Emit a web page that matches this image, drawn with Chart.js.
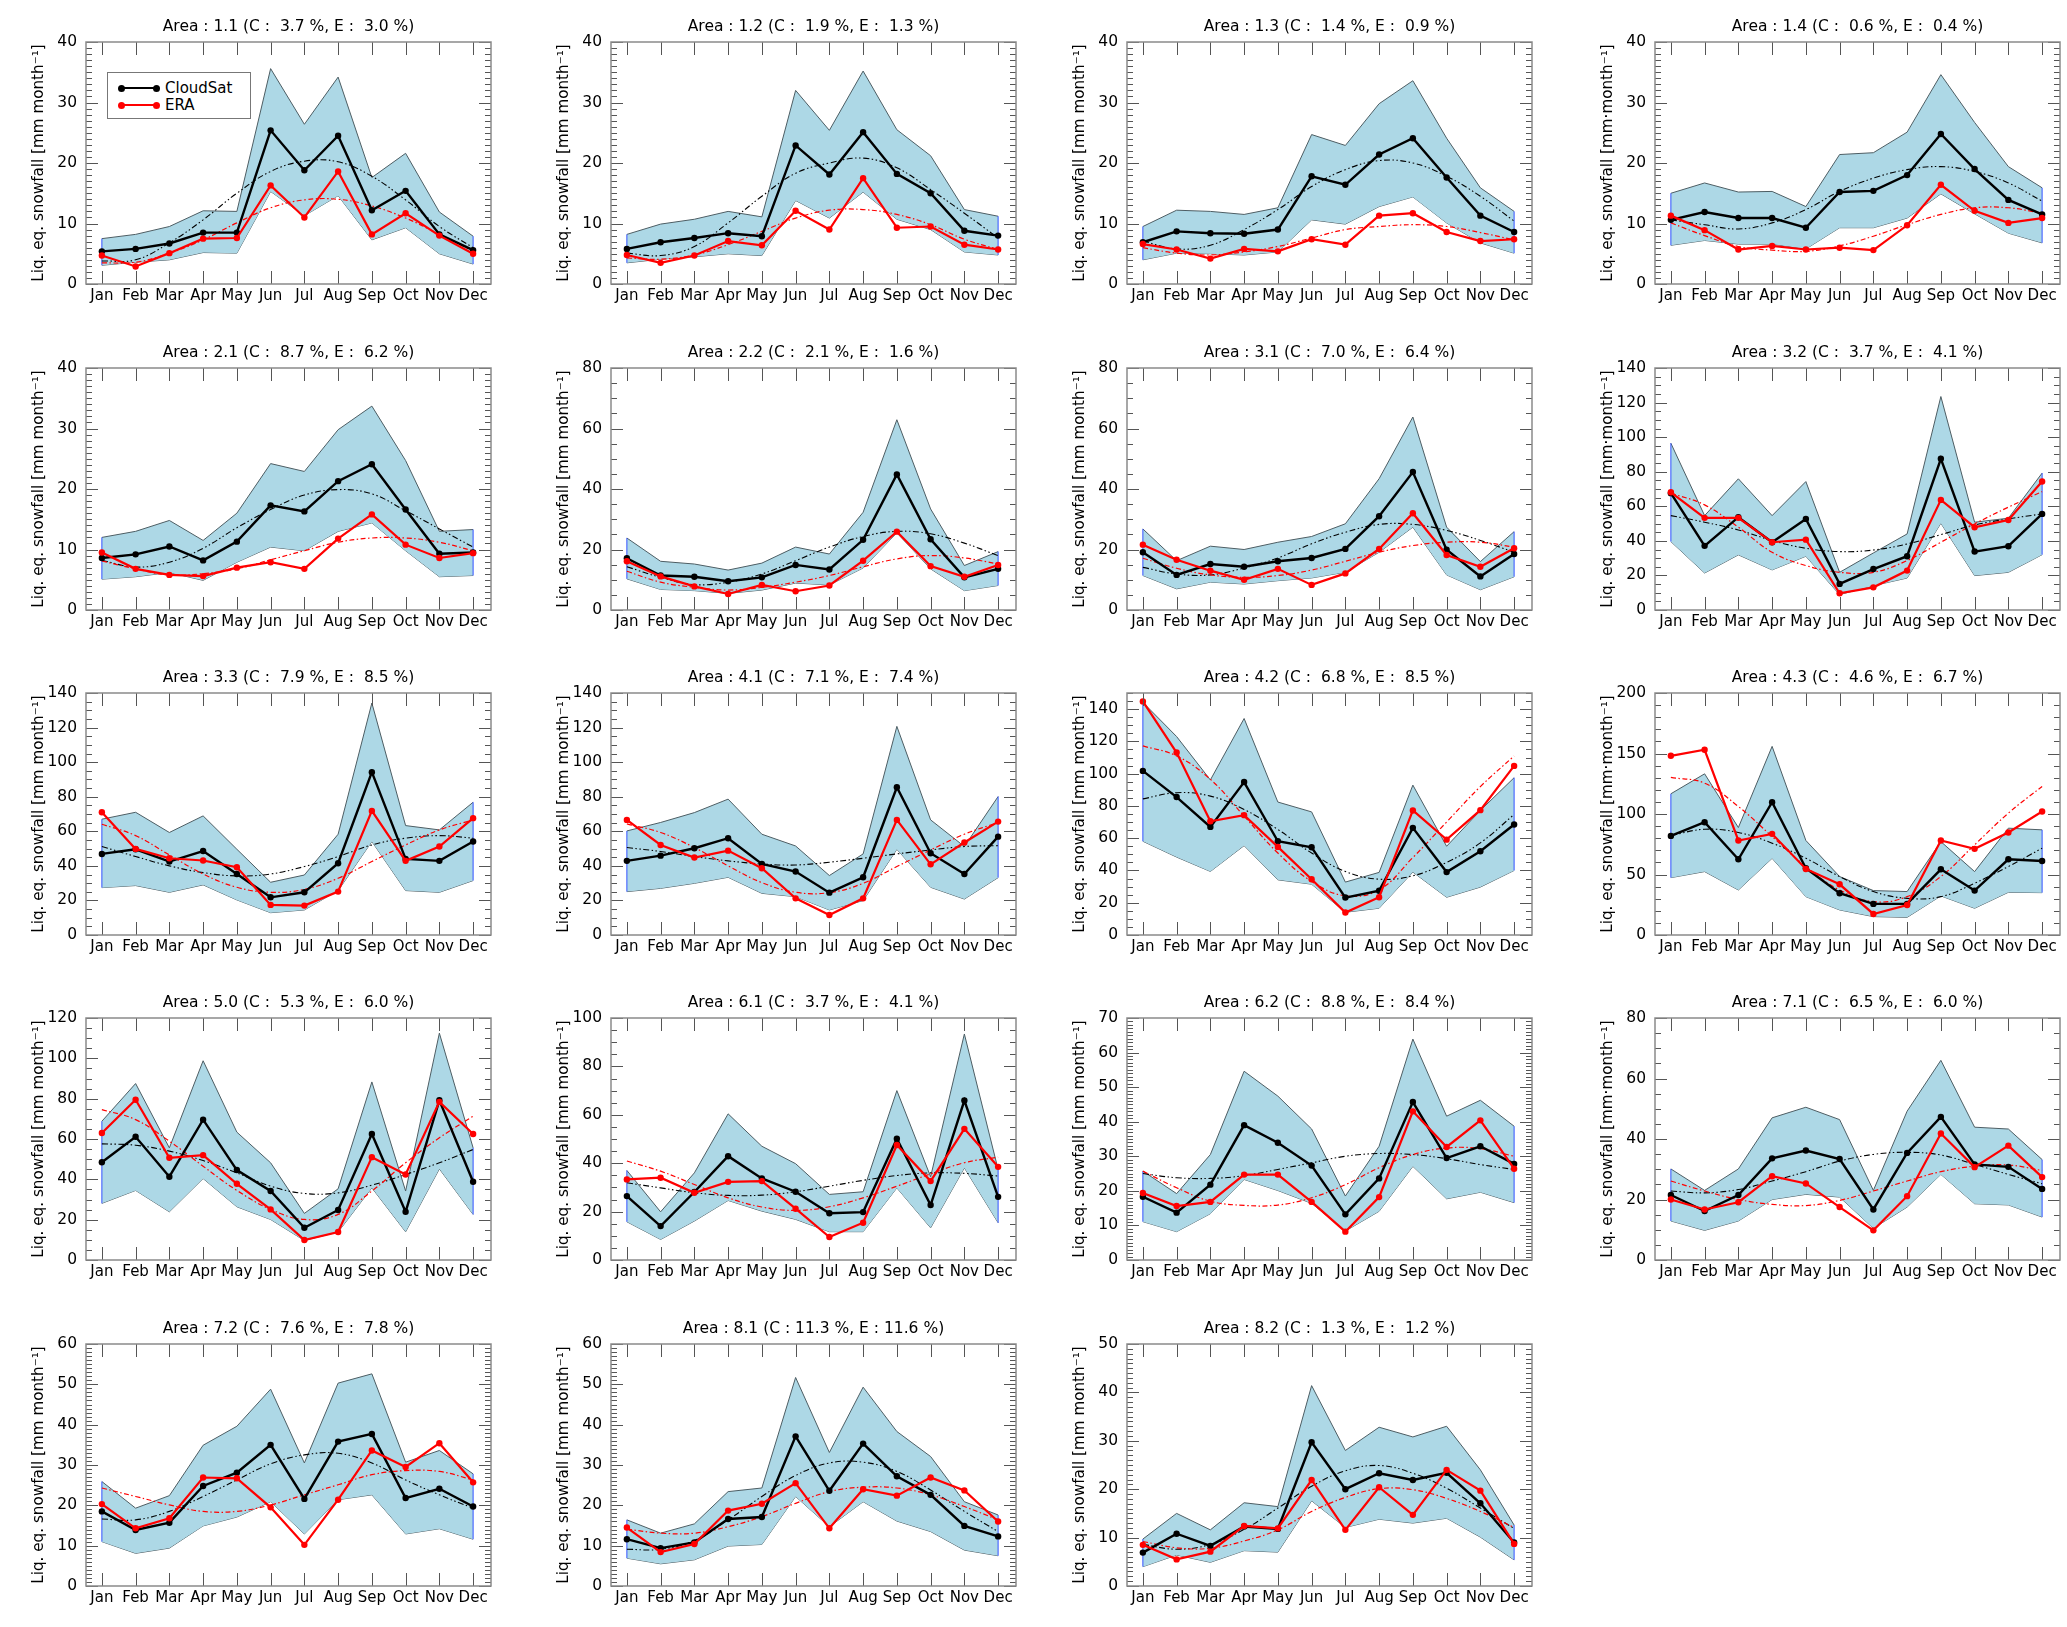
<!DOCTYPE html>
<html>
<head>
<meta charset="utf-8">
<script src="https://cdn.jsdelivr.net/npm/chart.js@4.4.1/dist/chart.umd.min.js"></script>
<style>
  body { margin: 0; background: #fff; width: 2067px; height: 1627px; position: relative; overflow: hidden; }
  .panel { position: absolute; }
  #legend { position: absolute; left: 107px; top: 72px; width: 142px; height: 45px; border: 1px solid #777; background: #fff; font: 15px 'DejaVu Sans', sans-serif; z-index: 5; }
  .lrow { position: absolute; left: 0; height: 0; }
  .lline { position: absolute; left: 13px; top: -1px; width: 36px; height: 2px; }
  .ldot { position: absolute; top: -3.5px; width: 7px; height: 7px; border-radius: 50%; }
  .ltxt { position: absolute; left: 57px; top: -9px; line-height: 18px; white-space: nowrap; }
</style>
</head>
<body>
<script>
// months / panel info
const months = ['Jan','Feb','Mar','Apr','May','Jun','Jul','Aug','Sep','Oct','Nov','Dec'];
const areaNames = ['1.1','1.2','1.3','1.4','2.1','2.2','3.1','3.2','3.3','4.1','4.2','4.3','5.0','6.1','6.2','7.1','7.2','8.1','8.2'];
const cPct = [3.7,1.9,1.4,0.6,8.7,2.1,7.0,3.7,7.9,7.1,6.8,4.6,5.3,3.7,8.8,6.5,7.6,11.3,1.3];
const ePct = [3.0,1.3,0.9,0.4,6.2,1.6,6.4,4.1,8.5,7.4,8.5,6.7,6.0,4.1,8.4,6.0,7.8,11.6,1.2];
const yMaxes = [40,40,40,40,40,80,80,140,140,140,150,200,120,100,70,80,60,60,50];
const ySteps = [10,10,10,10,10,20,20,20,20,20,20,50,20,20,10,20,10,10,10];
const dotUnitPanels = ['1.4','3.2','4.3','7.1'];
const seriesNames = ['CloudSat','ERA'];
const seriesColors = ['#000000','#ff0000'];

// Area 1.1
const cs11 = [5.4,5.8,6.7,8.5,8.5,25.4,18.8,24.5,12.2,15.4,8.2,5.6];
const era11 = [4.7,2.9,5.1,7.5,7.6,16.3,11.0,18.6,8.2,11.7,8.0,5.0];
const up11 = [7.5,8.2,9.5,12.1,12.0,35.6,26.4,34.2,17.6,21.6,11.9,7.9];
const lo11 = [3.1,3.6,4.0,5.2,5.1,15.3,11.3,14.6,7.3,9.3,5.0,3.3];
const csFit11 = [3.8,4.0,6.8,10.6,15.0,18.6,20.3,20.2,17.8,13.9,9.5,6.0];
const eraFit11 = [3.5,3.6,5.1,7.3,10.1,12.6,13.9,14.0,12.9,10.9,8.2,5.4];
// Area 1.2
const cs12 = [5.8,6.9,7.6,8.4,7.9,22.9,18.1,25.1,18.2,15.0,8.8,8.0];
const era12 = [4.8,3.5,4.7,7.1,6.4,12.1,9.0,17.5,9.3,9.5,6.5,5.7];
const up12 = [8.2,9.9,10.7,12.0,11.1,32.0,25.4,35.2,25.5,21.2,12.3,11.2];
const lo12 = [3.5,4.1,4.5,5.0,4.7,13.8,10.9,15.2,10.7,9.0,5.3,4.8];
const csFit12 = [5.1,4.7,6.2,10.1,14.5,18.3,20.0,20.8,19.2,15.6,11.7,7.6];
const eraFit12 = [4.3,4.1,4.8,6.5,8.7,10.9,12.2,12.3,11.5,9.8,7.4,5.7];
// Area 1.3
const cs13 = [6.9,8.7,8.4,8.3,9.0,17.8,16.4,21.4,24.1,17.6,11.3,8.6];
const era13 = [6.6,5.7,4.2,5.8,5.4,7.4,6.5,11.3,11.7,8.6,7.1,7.4];
const up13 = [9.5,12.2,12.0,11.5,12.6,24.7,22.9,29.8,33.6,24.1,15.9,12.0];
const lo13 = [4.0,5.1,5.0,4.8,5.3,10.6,9.9,12.8,14.4,10.1,6.8,5.1];
const csFit13 = [7.1,5.8,6.4,9.0,12.3,16.1,18.9,20.4,20.0,17.8,14.5,10.4];
const eraFit13 = [6.0,5.1,4.8,5.3,6.2,7.6,9.0,9.5,9.8,9.5,8.5,7.3];
// Area 1.4
const cs14 = [10.6,11.9,10.9,10.9,9.3,15.2,15.4,18.0,24.8,19.0,13.9,11.5];
const era14 = [11.3,8.9,5.7,6.3,5.7,6.0,5.6,9.7,16.4,12.1,10.1,10.9];
const up14 = [15.0,16.7,15.2,15.3,12.8,21.4,21.7,25.1,34.6,26.7,19.4,15.9];
const lo14 = [6.4,7.2,6.6,6.6,5.8,9.3,9.3,10.9,14.9,11.6,8.4,6.8];
const csFit14 = [10.6,9.8,9.1,10.1,12.3,15.3,17.5,18.9,19.4,18.6,16.7,13.7];
const eraFit14 = [10.1,8.0,6.2,5.6,5.4,6.3,7.9,9.8,11.5,12.6,12.6,11.7];
// Area 2.1
const cs21 = [8.6,9.2,10.5,8.2,11.3,17.3,16.3,21.3,24.1,16.6,9.3,9.5];
const era21 = [9.5,6.8,5.8,5.6,7.0,7.9,6.8,11.8,15.8,10.8,8.6,9.4];
const up21 = [12.0,13.0,14.8,11.5,16.0,24.2,22.9,29.8,33.7,24.7,13.0,13.3];
const lo21 = [5.1,5.5,6.2,4.9,7.9,10.4,9.8,13.0,14.4,9.8,5.5,5.7];
const csFit21 = [8.2,7.1,7.9,10.2,13.6,16.6,19.0,19.9,19.2,16.4,13.4,10.4];
const eraFit21 = [8.1,6.8,5.8,6.0,6.8,8.3,9.8,11.2,11.9,11.9,11.2,9.8];
// Area 2.2
const cs22 = [17.1,11.4,11.0,9.5,10.8,14.9,13.4,23.2,44.8,23.4,10.8,13.6];
const era22 = [16.1,11.1,7.8,5.3,8.3,6.2,8.1,16.3,25.9,14.5,11.0,14.9];
const up22 = [23.8,16.1,15.2,13.2,15.5,20.8,18.5,32.3,62.9,33.4,14.7,19.3];
const lo22 = [10.3,6.8,6.4,5.5,6.6,8.9,8.3,13.9,25.5,13.6,6.4,8.1];
const csFit22 = [14.3,10.8,8.4,9.2,11.9,16.3,20.8,24.3,26.0,25.2,22.1,18.0];
const eraFit22 = [12.8,9.2,7.5,6.6,7.5,9.2,11.4,14.3,16.9,18.0,17.2,15.2];
// Area 3.1
const cs31 = [19.1,11.6,15.2,14.3,16.1,17.2,20.2,31.0,45.6,19.9,11.1,18.5];
const era31 = [21.6,16.6,13.0,10.0,13.6,8.3,12.1,20.2,32.0,18.2,14.3,20.4];
const up31 = [26.8,16.3,21.1,20.0,22.4,24.3,28.5,43.4,63.8,27.4,16.0,25.9];
const lo31 = [11.4,7.0,9.2,8.6,9.7,10.6,12.5,19.1,27.4,11.6,6.7,11.0];
const csFit31 = [14.1,11.9,11.6,13.9,17.2,21.9,25.7,28.3,28.3,26.3,23.0,19.1];
const eraFit31 = [17.1,13.8,11.6,10.8,11.4,13.2,16.1,19.1,21.3,22.4,22.4,20.8];
// Area 3.2
const cs32 = [67.6,37.1,53.7,39.2,52.7,15.1,23.7,31.1,87.5,33.8,36.9,55.6];
const era32 = [68.1,53.3,53.3,39.2,40.7,9.7,13.1,22.8,63.7,47.9,52.1,74.3];
const up32 = [96.5,54.6,75.9,54.6,74.3,21.8,33.0,44.0,123.5,50.8,53.1,79.2];
const lo32 = [39.6,21.4,31.9,23.2,31.1,8.9,14.1,18.5,50.2,19.9,21.8,32.0];
const csFit32 = [54.6,50.8,46.3,40.2,35.7,33.8,34.7,38.2,43.6,49.2,52.7,55.6];
const eraFit32 = [67.6,60.8,47.9,33.4,25.7,21.8,21.8,28.6,39.2,49.8,59.5,68.5];
// Area 3.3
const cs33 = [46.9,49.6,42.5,48.6,35.3,21.8,24.7,41.5,94.2,44.0,42.9,54.1];
const era33 = [71.0,49.8,44.4,43.1,39.2,17.4,17.0,25.1,71.8,42.9,51.2,67.6];
const up33 = [67.0,71.0,59.3,68.9,49.6,30.5,34.7,58.3,134.2,63.3,60.8,76.8];
const lo33 = [27.4,28.6,24.7,29.0,20.3,12.9,14.5,25.7,54.1,25.7,24.7,31.5];
const csFit33 = [51.2,45.4,40.0,36.1,34.2,35.3,39.6,45.4,52.1,56.0,57.5,56.0];
const eraFit33 = [64.1,57.5,46.3,35.3,27.6,24.7,26.4,32.8,42.5,52.1,60.8,66.6];
// Area 4.1
const cs41 = [42.9,45.9,50.2,56.0,41.1,36.7,24.5,33.4,85.5,47.3,35.3,56.9];
const era41 = [66.6,52.1,44.8,48.8,38.6,21.2,11.6,21.2,66.6,40.9,53.5,65.6];
const up41 = [60.2,65.1,70.8,78.6,58.3,51.5,34.4,46.9,120.7,66.6,51.2,80.1];
const lo41 = [25.1,27.0,29.9,33.4,24.1,22.2,14.5,19.9,49.6,27.6,20.8,33.2];
const csFit41 = [50.6,48.3,45.4,42.9,41.1,40.5,42.1,44.4,46.9,49.2,51.2,51.7];
const eraFit41 = [64.3,59.3,50.6,40.0,30.3,24.7,24.5,29.9,39.6,49.2,58.3,65.1];
// Area 4.2
const cs42 = [101.7,85.5,67.0,94.8,58.1,54.4,23.2,27.4,66.4,39.0,51.9,68.5];
const era42 = [144.8,113.1,70.5,74.3,54.6,34.6,13.9,23.4,77.2,59.1,77.4,104.8];
const up42 = [144.2,123.0,96.1,134.2,82.4,76.3,32.8,38.8,92.9,55.0,77.2,97.5];
const lo42 = [58.1,48.3,39.4,55.4,34.2,31.5,14.1,16.6,39.0,23.4,29.7,40.0];
const csFit42 = [84.4,88.2,86.1,77.8,65.4,50.8,39.4,34.6,36.7,45.0,57.1,74.7];
const eraFit42 = [117.2,111.0,96.5,73.7,50.8,33.2,24.3,28.0,48.0,70.0,92.0,111.0];
// Area 4.3
const cs43 = [81.9,93.2,62.6,109.8,55.2,34.5,25.7,25.7,54.3,36.7,62.6,61.2];
const era43 = [148.1,153.1,78.1,83.6,54.6,41.9,17.4,24.8,78.1,71.2,84.7,102.1];
const up43 = [116.7,133.2,88.8,155.9,78.1,48.3,36.7,35.9,77.2,52.4,88.3,86.9];
const lo43 = [47.4,52.4,37.2,63.4,31.7,20.7,15.2,14.6,32.3,22.1,35.3,35.0];
const csFit43 = [82.2,87.4,84.7,75.9,63.4,48.3,35.9,30.3,31.7,42.8,56.6,71.7];
const eraFit43 = [130.2,125.5,106.2,81.4,56.6,37.2,27.6,31.7,48.3,74.5,100.7,122.8];
// Area 5.0
const cs50 = [48.5,61.1,41.3,69.6,44.6,34.2,16.0,24.8,62.5,23.9,79.2,38.8];
const era50 = [63.0,79.5,50.7,52.0,37.8,25.1,9.9,13.9,51.0,42.4,78.4,62.5];
const up50 = [68.8,87.5,55.6,98.8,63.4,48.2,23.1,35.3,88.3,34.2,112.5,55.6];
const lo50 = [28.1,34.5,23.9,40.4,26.4,20.1,9.7,13.9,35.8,14.0,45.2,22.6];
const csFit50 = [57.6,56.9,54.0,49.3,43.2,36.6,33.0,33.3,37.1,42.4,48.2,54.8];
const eraFit50 = [74.6,69.6,58.9,46.5,34.5,25.1,20.1,22.6,34.2,48.2,60.6,71.3];
// Area 6.1
const cs61 = [26.4,14.0,28.1,42.9,33.7,28.2,19.3,19.8,50.1,22.7,65.9,26.1];
const era61 = [33.3,34.0,27.8,32.3,32.6,21.2,9.5,15.4,47.5,32.6,54.2,38.5];
const up61 = [37.0,19.9,36.0,60.4,47.0,39.8,27.1,28.2,70.0,34.4,93.4,37.4];
const lo61 = [15.8,8.5,16.1,24.6,20.2,16.8,11.7,11.7,29.8,13.3,38.1,15.4];
const csFit61 = [31.9,29.8,27.8,26.7,26.8,28.2,30.5,32.9,34.9,36.0,35.8,34.7];
const eraFit61 = [40.9,36.7,31.2,25.7,21.9,20.5,22.0,25.7,30.5,35.6,40.2,42.5];
// Area 6.2
const cs62 = [18.3,13.7,21.8,39.0,33.9,27.3,13.2,23.6,45.7,29.5,32.9,27.8];
const era62 = [19.4,15.6,16.8,24.7,24.7,16.8,8.2,18.2,43.0,32.7,40.4,26.4];
const up62 = [25.7,19.2,30.5,54.6,47.4,37.9,18.5,32.9,63.9,41.6,46.2,38.7];
const lo62 = [11.1,8.2,13.4,23.3,20.1,16.4,8.4,14.1,27.1,17.7,19.6,16.6];
const csFit62 = [25.0,23.8,23.6,24.4,26.2,28.1,30.0,30.8,30.5,29.3,27.6,26.2];
const eraFit62 = [25.7,20.9,17.0,15.8,15.9,18.0,21.8,26.7,30.5,32.4,32.2,30.0];
// Area 7.1
const cs71 = [21.5,16.2,21.5,33.6,36.2,33.4,16.7,35.4,47.3,31.6,30.8,23.5];
const era71 = [20.0,16.7,19.1,27.7,25.3,17.5,9.8,21.1,41.8,30.7,37.8,27.4];
const up71 = [30.1,23.0,30.1,47.0,50.5,46.4,23.0,49.2,66.0,43.9,43.3,33.2];
const lo71 = [12.9,9.8,12.9,20.0,21.7,20.8,10.5,17.5,28.3,18.6,18.2,14.2];
const csFit71 = [22.8,22.2,23.3,26.1,29.2,32.7,34.9,35.6,34.7,31.6,28.3,25.2];
const eraFit71 = [26.1,22.8,20.0,18.4,18.0,19.7,22.8,26.1,29.2,31.0,31.4,29.6];
// Area 7.2
const cs72 = [18.5,13.9,15.7,24.8,28.1,35.0,21.6,35.8,37.7,21.8,24.1,19.7];
const era72 = [20.3,14.3,16.8,26.9,26.7,19.5,10.2,21.4,33.6,29.5,35.4,25.7];
const up72 = [25.9,19.3,22.4,34.9,39.6,48.8,30.5,50.3,52.6,30.7,33.6,27.8];
const lo72 = [11.0,8.1,9.4,14.9,17.1,20.9,12.9,21.4,22.6,12.9,14.2,11.6];
const csFit72 = [16.6,16.4,18.5,22.2,26.3,30.3,32.5,32.9,30.5,26.3,22.6,19.3];
const eraFit72 = [24.3,22.2,20.1,18.5,18.5,20.1,22.6,25.1,27.6,28.6,28.4,26.3];
// Area 8.1
const cs81 = [11.6,9.4,10.8,16.6,17.1,37.1,23.6,35.3,27.2,22.6,14.9,12.3];
const era81 = [14.5,8.4,10.4,18.7,20.4,25.5,14.3,24.0,22.4,26.9,23.7,16.0];
const up81 = [16.4,13.1,15.4,23.4,24.3,51.7,33.1,49.3,38.3,32.1,20.9,17.6];
const lo81 = [6.9,5.5,6.5,9.9,10.3,22.2,14.7,20.9,16.1,13.5,8.9,7.5];
const csFit81 = [9.1,9.1,11.3,16.4,22.2,27.4,30.5,30.7,28.4,23.8,18.5,13.5];
const eraFit81 = [14.1,13.1,13.1,14.7,17.2,20.5,23.4,24.5,24.3,22.6,19.7,16.4];
// Area 8.2
const cs82 = [6.9,10.8,8.3,12.3,11.8,29.7,20.0,23.3,21.9,23.4,17.1,9.0];
const era82 = [8.5,5.5,7.1,12.4,11.9,21.9,11.6,20.4,14.7,24.0,19.7,8.7];
const up82 = [9.7,15.0,11.6,17.2,16.4,41.4,28.0,32.8,30.8,33.0,24.0,12.6];
const lo82 = [4.0,6.4,4.9,7.3,7.0,17.6,12.1,13.8,13.0,14.0,10.1,5.4];
const csFit82 = [8.6,7.6,8.6,11.7,16.1,20.6,23.8,24.9,23.3,20.2,16.1,11.9];
const eraFit82 = [9.2,7.9,7.8,9.3,11.6,15.4,18.3,20.1,19.9,18.1,15.4,12.1];

const panelSeries = [
  [cs11, era11, up11, lo11, csFit11, eraFit11],
  [cs12, era12, up12, lo12, csFit12, eraFit12],
  [cs13, era13, up13, lo13, csFit13, eraFit13],
  [cs14, era14, up14, lo14, csFit14, eraFit14],
  [cs21, era21, up21, lo21, csFit21, eraFit21],
  [cs22, era22, up22, lo22, csFit22, eraFit22],
  [cs31, era31, up31, lo31, csFit31, eraFit31],
  [cs32, era32, up32, lo32, csFit32, eraFit32],
  [cs33, era33, up33, lo33, csFit33, eraFit33],
  [cs41, era41, up41, lo41, csFit41, eraFit41],
  [cs42, era42, up42, lo42, csFit42, eraFit42],
  [cs43, era43, up43, lo43, csFit43, eraFit43],
  [cs50, era50, up50, lo50, csFit50, eraFit50],
  [cs61, era61, up61, lo61, csFit61, eraFit61],
  [cs62, era62, up62, lo62, csFit62, eraFit62],
  [cs71, era71, up71, lo71, csFit71, eraFit71],
  [cs72, era72, up72, lo72, csFit72, eraFit72],
  [cs81, era81, up81, lo81, csFit81, eraFit81],
  [cs82, era82, up82, lo82, csFit82, eraFit82]
];

// layout (plot area positions)
const plotLefts = [86, 611, 1127, 1655];
const plotTops = [42, 368, 693, 1018, 1344];
const PLOT_W = 405, PLOT_H = 242, Y_W = 85, TITLE_H = 42, X_H = 36, PAD_R = 6;

const xy = arr => arr.map((v, i) => ({ x: i, y: v }));
const pad4 = v => v.toFixed(1).padStart(4, ' ');

// frame + inward ticks, like the original plotting package
const framePlugin = {
  id: 'frame',
  afterDatasetsDraw(chart) {
    const { ctx, chartArea: { left, right, top, bottom }, scales: { x, y } } = chart;
    ctx.save();
    ctx.strokeStyle = '#555';
    ctx.lineWidth = 1;
    ctx.beginPath();
    x.ticks.forEach(t => {
      const px = Math.round(x.getPixelForValue(t.value)) + 0.5;
      ctx.moveTo(px, bottom); ctx.lineTo(px, bottom - 13);
      ctx.moveTo(px, top); ctx.lineTo(px, top + 13);
    });
    const step = y.ticks[1].value - y.ticks[0].value;
    const minor = step === 10 ? 1 : step === 20 ? 5 : 10;
    for (let k = 0; k * minor <= y.max + 1e-9; k++) {
      const v = k * minor;
      const py = Math.round(y.getPixelForValue(v)) + 0.5;
      const isMajor = Math.abs(v / step - Math.round(v / step)) < 1e-6;
      const len = isMajor ? 12 : 6;
      ctx.moveTo(left, py); ctx.lineTo(left + len, py);
      ctx.moveTo(right, py); ctx.lineTo(right - len, py);
    }
    ctx.stroke();
    ctx.strokeStyle = '#8a8a8a';
    ctx.lineWidth = 1.5;
    ctx.strokeRect(left, top, right - left, bottom - top);
    ctx.restore();
  }
};

areaNames.forEach((name, k) => {
  const col = k % 4, row = Math.floor(k / 4);
  const [cs, era, up, lo, csFit, eraFit] = panelSeries[k];
  const div = document.createElement('div');
  div.className = 'panel';
  const w = Y_W + PLOT_W + PAD_R, h = TITLE_H + PLOT_H + X_H;
  div.style.left = (plotLefts[col] - Y_W) + 'px';
  div.style.top = (plotTops[row] - TITLE_H) + 'px';
  const cv = document.createElement('canvas');
  cv.width = w; cv.height = h;
  cv.style.width = w + 'px'; cv.style.height = h + 'px';
  div.appendChild(cv);
  document.body.appendChild(div);

  const yTicks = [];
  for (let v = 0; v <= yMaxes[k]; v += ySteps[k]) yTicks.push(v);
  const unit = dotUnitPanels.includes(name) ? 'mm\u00b7month\u207b\u00b9' : 'mm month\u207b\u00b9';

  new Chart(cv, {
    type: 'line',
    data: {
      datasets: [
        { label: 'ERA', data: xy(era), borderColor: '#ff0000', backgroundColor: '#ff0000', borderWidth: 2.2,
          pointRadius: 3.2, pointBorderWidth: 0, pointBackgroundColor: '#ff0000', tension: 0 },
        { label: 'CloudSat', data: xy(cs), borderColor: '#000', backgroundColor: '#000', borderWidth: 2.4,
          pointRadius: 3.2, pointBorderWidth: 0, pointBackgroundColor: '#000', tension: 0 },
        { label: 'ERA fit', data: xy(eraFit), borderColor: '#ff0000', borderWidth: 1.2,
          borderDash: [5, 2.5, 1.5, 2.5], pointRadius: 0, tension: 0.4 },
        { label: 'CloudSat fit', data: xy(csFit), borderColor: '#000', borderWidth: 1.1,
          borderDash: [6, 2.5, 1.5, 2.5, 1.5, 2.5], pointRadius: 0, tension: 0.4 },
        { label: 'edgeL', data: [{ x: 0, y: lo[0] }, { x: 0, y: up[0] }], borderColor: '#3050ff', borderWidth: 1, pointRadius: 0 },
        { label: 'edgeR', data: [{ x: 11, y: lo[11] }, { x: 11, y: up[11] }], borderColor: '#3050ff', borderWidth: 1, pointRadius: 0 },
        { label: 'max', data: xy(up), borderColor: '#4d5d63', borderWidth: 1, pointRadius: 0,
          fill: '+1', backgroundColor: '#add8e6', tension: 0 },
        { label: 'min', data: xy(lo), borderColor: '#4d5d63', borderWidth: 1, pointRadius: 0, fill: false, tension: 0 }
      ]
    },
    options: {
      responsive: false,
      animation: false,
      layout: { padding: { left: 0, right: PAD_R, top: 0, bottom: 0 } },
      plugins: {
        legend: { display: false },
        tooltip: { enabled: false },
        title: {
          display: true,
          fullSize: false,
          text: 'Area : ' + name + ' (C : ' + pad4(cPct[k]) + ' %, E : ' + pad4(ePct[k]) + ' %)',
          color: '#000',
          font: { family: 'DejaVu Sans', size: 15.5, weight: 'normal', lineHeight: 1.2 },
          padding: { top: 18, bottom: 5.4 }
        }
      },
      scales: {
        x: {
          type: 'linear', min: -0.47, max: 11.53,
          afterBuildTicks: s => { s.ticks = months.map((m, i) => ({ value: i })); },
          afterFit: s => { s.height = X_H; },
          grid: { display: false, drawTicks: false },
          border: { display: false },
          ticks: { autoSkip: false, maxRotation: 0, padding: 3, color: '#000',
                   font: { family: 'DejaVu Sans', size: 15 }, callback: v => months[v] }
        },
        y: {
          type: 'linear', min: 0, max: yMaxes[k],
          afterBuildTicks: s => { s.ticks = yTicks.map(v => ({ value: v })); },
          afterFit: s => { s.width = Y_W; },
          grid: { display: false, drawTicks: false },
          border: { display: false },
          ticks: { padding: 9, color: '#000', font: { family: 'DejaVu Sans', size: 15.5 }, callback: v => String(v) },
          title: { display: true, text: 'Liq. eq. snowfall [' + unit + ']', color: '#000',
                   font: { family: 'DejaVu Sans', size: 15.2, lineHeight: 1.2 }, padding: { top: 29, bottom: 0 } }
        }
      }
    },
    plugins: [framePlugin]
  });
});

// legend box inside the first panel
const lg = document.createElement('div');
lg.id = 'legend';
seriesNames.forEach((n, i) => {
  const c = seriesColors[i];
  const r = document.createElement('div');
  r.className = 'lrow';
  r.style.top = (15 + 17 * i) + 'px';
  r.innerHTML = '<span class="lline" style="background:' + c + '"></span>' +
    '<span class="ldot" style="left:10px;background:' + c + '"></span>' +
    '<span class="ldot" style="left:45px;background:' + c + '"></span>' +
    '<span class="ltxt">' + n + '</span>';
  lg.appendChild(r);
});
document.body.appendChild(lg);
</script>
</body>
</html>
